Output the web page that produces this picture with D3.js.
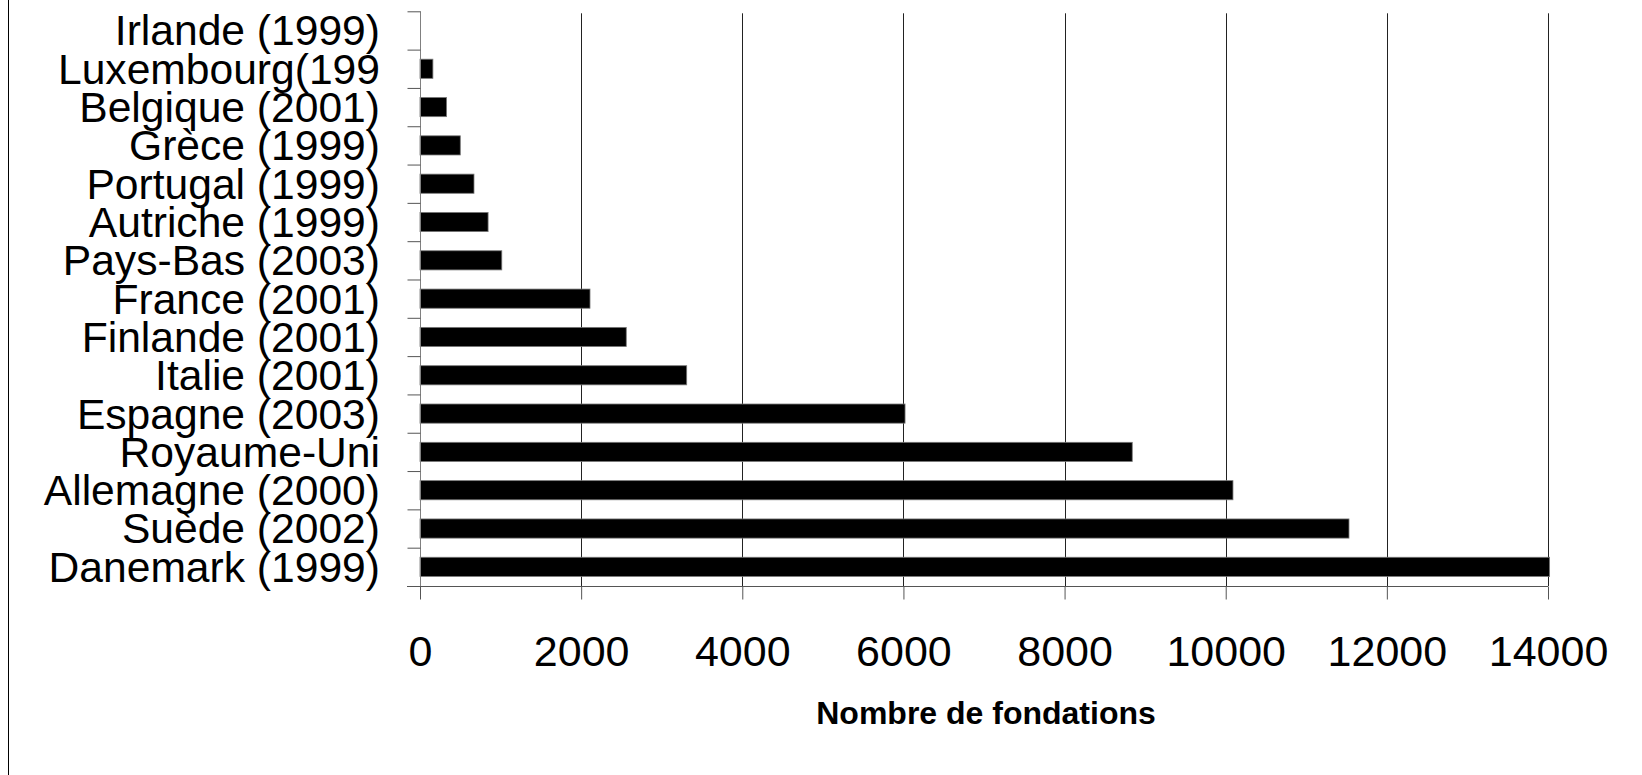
<!DOCTYPE html>
<html>
<head>
<meta charset="utf-8">
<script src="https://cdn.jsdelivr.net/npm/d3@7"></script>
<style>
  body { margin: 0; background: #fff; }
  svg { display: block; font-family: "Liberation Sans", Arial, sans-serif; }
</style>
</head>
<body>
<div class="chart"></div>
<script>
const categories = [
  "Irlande (1999)", "Luxembourg(199", "Belgique (2001)", "Grèce (1999)",
  "Portugal (1999)", "Autriche (1999)", "Pays-Bas (2003)", "France (2001)",
  "Finlande (2001)", "Italie (2001)", "Espagne (2003)", "Royaume-Uni",
  "Allemagne (2000)", "Suède (2002)", "Danemark (1999)"
];
const values = [0, 160, 330, 500, 670, 845, 1015, 2110, 2560, 3310, 6020, 8840, 10090, 11530, 14020];
const xTicks = [0, 2000, 4000, 6000, 8000, 10000, 12000, 14000];
const xTitle = "Nombre de fondations";

const W = 1642, H = 775;
const plotLeft = 420, plotRight = 1548, plotTop = 11.3, plotBottom = 586;

const svg = d3.select(".chart")
  .append("svg")
  .attr("width", W)
  .attr("height", H);

svg.append("rect").attr("width", W).attr("height", H).attr("fill", "#fff");

// left frame edge
svg.append("line")
  .attr("x1", 8.5).attr("x2", 8.5)
  .attr("y1", 0).attr("y2", H)
  .attr("stroke", "#000").attr("stroke-width", 1);

var x = d3.scaleLinear().domain([0, 14000]).range([plotLeft, plotRight]);
var y = d3.scaleBand()
  .domain(categories)
  .range([plotTop, plotBottom])
  .paddingInner(0.5)
  .paddingOuter(0.25);
var yEdge = d3.scaleLinear().domain([0, categories.length]).range([plotTop, plotBottom]);

// vertical gridlines
svg.append("g")
  .selectAll("line")
  .data(xTicks.filter(d => d > 0))
  .enter()
  .append("line")
  .attr("x1", d => Math.round(x(d)) + 0.5)
  .attr("x2", d => Math.round(x(d)) + 0.5)
  .attr("y1", plotTop + 2)
  .attr("y2", plotBottom)
  .attr("stroke", "#222")
  .attr("stroke-width", 1);

// bars
svg.append("g")
  .selectAll("rect")
  .data(categories)
  .enter()
  .append("rect")
  .attr("x", x(0))
  .attr("y", d => y(d))
  .attr("width", (d, i) => x(values[i]) - x(0))
  .attr("height", y.bandwidth())
  .attr("fill", "#000")
  .attr("stroke", (d, i) => values[i] > 0 ? "#777" : "none")
  .attr("stroke-width", 0.8);

// y axis: ticks at band edges
const yAxis = svg.append("g")
  .attr("transform", "translate(" + (plotLeft + 0.5) + ",0)")
  .call(d3.axisLeft(yEdge).tickValues(d3.range(categories.length + 1)).tickSize(13).tickFormat(""));
yAxis.select(".domain").attr("stroke", "#808080").attr("d", "M0," + plotTop + "V" + plotBottom);
yAxis.selectAll(".tick line").attr("stroke", "#555");

// category labels
const yLabels = svg.append("g")
  .attr("transform", "translate(" + plotLeft + ",0)")
  .call(d3.axisLeft(y).tickSize(0).tickPadding(40));
yLabels.select(".domain").remove();
yLabels.selectAll("text")
  .attr("font-family", "Liberation Sans, Arial, sans-serif")
  .attr("font-size", 42.6)
  .attr("fill", "#000")
  .attr("dy", "0.35em");

// x axis
const xAxis = svg.append("g")
  .attr("transform", "translate(0," + (Math.round(plotBottom) + 0.5) + ")")
  .call(d3.axisBottom(x).tickValues(xTicks).tickSize(13).tickPadding(36).tickFormat(d3.format("d")));
xAxis.select(".domain").attr("stroke", "#555").attr("d", "M407,0H" + plotRight);
xAxis.selectAll(".tick line").attr("stroke", "#555");
xAxis.selectAll("text")
  .attr("font-family", "Liberation Sans, Arial, sans-serif")
  .attr("font-size", 43)
  .attr("fill", "#000");

// axis title
svg.append("text")
  .attr("x", (plotLeft + plotRight) / 2 + 2)
  .attr("y", 724)
  .attr("text-anchor", "middle")
  .attr("font-size", 32)
  .attr("font-weight", "bold")
  .attr("fill", "#000")
  .text(xTitle);
</script>
</body>
</html>
